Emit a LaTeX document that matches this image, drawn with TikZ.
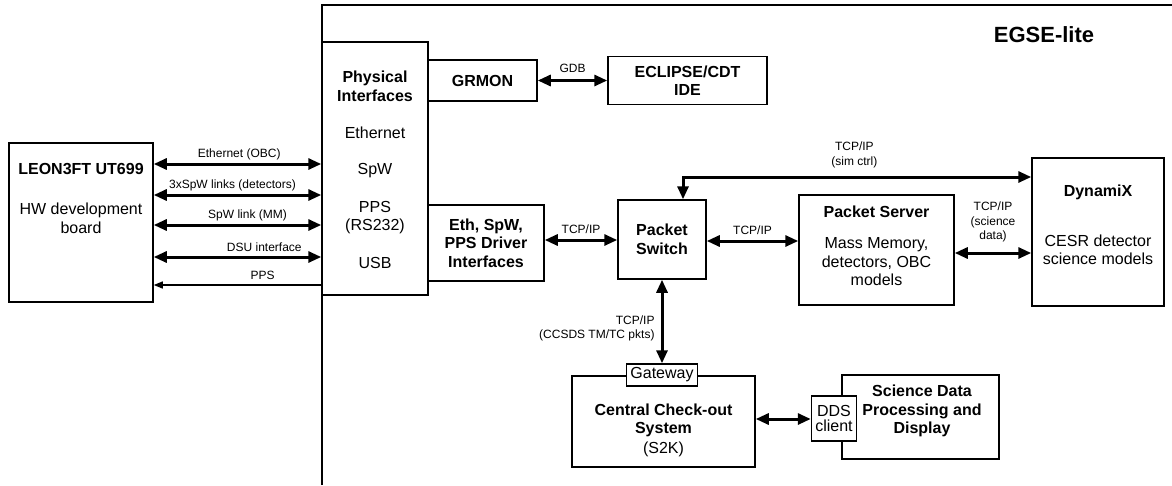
\documentclass[tikz,border=0pt]{standalone}
\usepackage{fontspec}
\setmainfont{Liberation Sans}
\usetikzlibrary{arrows.meta,positioning}
\newcommand{\bodyfs}{\fontsize{16}{18.5}\selectfont}
\newcommand{\labfs}{\fontsize{12}{14.5}\selectfont}
\newcommand{\titlefs}{\fontsize{22}{26}\selectfont}
\tikzset{
  >={Triangle[length=13pt,width=11pt]},
  box/.style={draw,line width=1.5pt,inner sep=0pt,align=center,font=\bodyfs\bfseries},
  port/.style={draw,fill=white,line width=1.5pt,inner sep=0pt,align=center,font=#1},
  port/.default=\bodyfs,
  txt/.style={inner sep=0pt,align=center,font=\bodyfs},
  head/.style={inner sep=0pt,align=center,font=\bodyfs\bfseries},
  tag/.style={inner sep=0pt,align=center,font=\labfs},
  flow/.style={<->,line width=3pt},
  thin flow/.style={{Triangle[length=9pt,width=7pt]}-,line width=1.3pt},
}
\begin{document}
\begin{tikzpicture}[x=1pt,y=-1pt]
  \useasboundingbox (0,0) rectangle (1172,485);
  % EGSE-lite frame
  \draw[line width=1.5pt] (322,485) -- (322,5) -- (1172,5);
  \node[head,font=\titlefs\bfseries] (egse) at (1044,35) {EGSE-lite};

  \node[box,minimum width=144,minimum height=159] (leon) at (81,222.5) {};
  \node[head] (leontitle) at (81,169) {LEON3FT UT699};
  \node[txt] (leontext) at (81,218.5) {HW development\\board};

  \node[box,minimum width=106,minimum height=253] (phys) at (375,168.5) {};
  \node[head] (phystitle) at (375,86.5) {Physical\\Interfaces};
  \node[txt] (physeth) at (375,133) {Ethernet};
  \node[txt] (physspw) at (375,171) {SpW};
  \node[txt] (physpps) at (375,217.5) {PPS\\(RS232)};
  \node[txt] (physusb) at (375,263) {USB};

  \node[box,minimum width=109,minimum height=41] (grmon) at (482.5,80.5) {GRMON};
  \node[box,minimum width=159,minimum height=48] (eclipse) at (687.5,80.5) {ECLIPSE/CDT\\IDE};
  \node[box,minimum width=116,minimum height=76] (eth) at (486,243) {Eth, SpW,\\PPS Driver\\Interfaces};
  \node[box,minimum width=88,minimum height=79] (switch) at (662,239.5) {Packet\\Switch};

  \node[box,minimum width=155,minimum height=110] (server) at (876.5,250) {};
  \node[head] (servertitle) at (876.5,212) {Packet Server};
  \node[txt] (servertext) at (876.5,262) {Mass Memory,\\detectors, OBC\\models};

  \node[box,minimum width=132,minimum height=148] (dynamix) at (1098,232) {};
  \node[head] (dynamixtitle) at (1098,192) {DynamiX};
  \node[txt] (dynamixtext) at (1098,250) {CESR detector\\science models};

  \node[box,minimum width=183,minimum height=91] (central) at (663.5,421.5) {};
  \node[head] (centraltitle) at (663.5,420.5) {Central Check-out\\System};
  \node[txt] (centraltext) at (663.5,449) {(S2K)};
  \node[port,minimum width=71,minimum height=22] (gateway) at (662,375) {Gateway};

  \node[box,minimum width=157,minimum height=84] (science) at (920.5,417) {};
  \node[head] (sciencetext) at (922,411) {Science Data\\Processing and\\Display};
  \node[port=\fontsize{16}{15}\selectfont,minimum width=45,minimum height=45] (dds) at (834,418.5) {DDS\\client};

  \draw[flow] (leon.east |- 0,164) -- node[tag,pos=0.51,yshift=10pt] {Ethernet (OBC)} (phys.west |- 0,164);
  \draw[flow] (leon.east |- 0,195) -- node[tag,pos=0.47,yshift=10pt] {3xSpW links (detectors)} (phys.west |- 0,195);
  \draw[flow] (leon.east |- 0,225) -- node[tag,pos=0.56,yshift=10pt] {SpW link (MM)} (phys.west |- 0,225);
  \draw[flow] (leon.east |- 0,257) -- node[tag,pos=0.66,yshift=10pt] {DSU interface} (phys.west |- 0,257);
  \draw[thin flow] (leon.east |- 0,285) -- node[tag,pos=0.65,yshift=10pt] {PPS} (phys.west |- 0,285);

  \draw[flow] (grmon.east) -- node[tag,yshift=12pt] {GDB} (grmon.east -| eclipse.west);
  \draw[flow] (eth.east |- 0,240) -- node[tag,yshift=11pt] {TCP/IP} (switch.west |- 0,240);
  \draw[flow] (switch.east |- 0,241) -- node[tag,yshift=11pt] {TCP/IP} (server.west |- 0,241);
  \draw[flow] (switch.north -| 683,0) |- node[tag,pos=0.746,yshift=22pt] {TCP/IP\\(sim ctrl)} (dynamix.west |- 0,177);
  \draw[flow] (server.east |- 0,253) -- node[tag,yshift=31pt] {TCP/IP\\(science\\data)} (dynamix.west |- 0,253);
  \draw[flow] (switch.south) -- node[tag,align=right,anchor=east,pos=0.58,xshift=-6pt] {TCP/IP\\(CCSDS TM/TC pkts)} (gateway.north);
  \draw[flow] (central.east |- 0,419) -- (dds.west |- 0,419);
\end{tikzpicture}
\end{document}
